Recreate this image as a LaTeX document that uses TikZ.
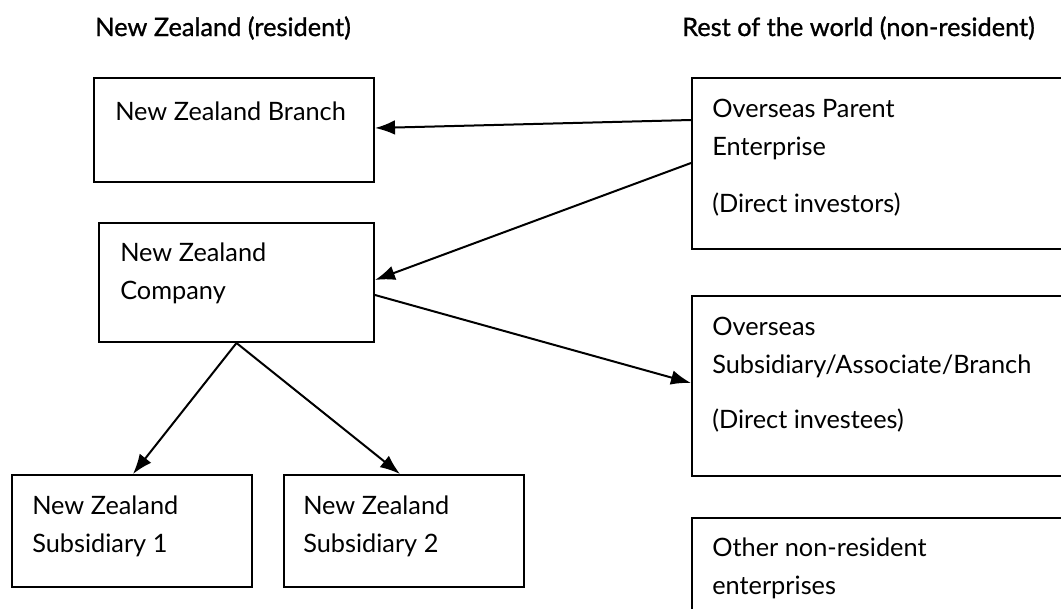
\documentclass[tikz,border=0pt]{standalone}
\usepackage{fontspec}
\setmainfont{Lato}
\newfontfamily\headfont{Lato}[FakeBold=1]
\usetikzlibrary{positioning,calc,arrows.meta}

\tikzset{
  entity/.style={draw, line width=1.5pt, anchor=north west, inner sep=0pt},
  entitytext/.style={anchor=north west, align=left, inner sep=0pt,
    font=\fontsize{19}{28.5}\selectfont,
    execute at begin node={\rule{0pt}{16pt}}},
  heading/.style={anchor=base west, inner sep=0pt,
    font=\headfont\fontsize{19}{22}\selectfont},
  link/.style={-{Latex[length=15pt,width=11pt]}, line width=1.5pt}
}

\begin{document}
\begin{tikzpicture}[x=0.75pt,y=-0.75pt]
  \useasboundingbox (0,0) rectangle (1061,608);
  \clip (0,0) rectangle (1061,608);

  % Column headings
  \node[heading] (nzhead) at (95,36) {New Zealand (resident)};
  \node[heading] (rowhead) at (682,36) {Rest of the world (non-resident)};

  % Resident boxes
  \node[entity, minimum width=210pt, minimum height=78pt] (branch) at (93,77) {};
  \node[entity, minimum width=206.25pt, minimum height=89.25pt] (company) at (98,222) {};
  \node[entity, minimum width=180pt, minimum height=84pt] (sub1) at (11,474) {};
  \node[entity, minimum width=180pt, minimum height=84pt] (sub2) at (283,474) {};

  % Non-resident boxes (run off the page)
  \node[entity, minimum width=300pt, minimum height=128.25pt] (parent) at (691,77) {};
  \node[entity, minimum width=300pt, minimum height=135pt] (overseas) at (691,295) {};
  \node[entity, minimum width=300pt, minimum height=112.5pt] (others) at (691,517) {};

  % Box texts (first baseline 21.3px below the top of the text node)
  \node[entitytext] (branchtxt) at ($(branch.north west)+(22,21.5)$) {New Zealand Branch};
  \node[entitytext] (companytxt) at ($(company.north west)+(22,20.5)$) {New Zealand\\Company};
  \node[entitytext] (sub1txt) at ($(sub1.north west)+(21,21.5)$) {New Zealand\\Subsidiary 1};
  \node[entitytext] (sub2txt) at ($(sub2.north west)+(20,21.5)$) {New Zealand\\Subsidiary 2};
  \node[entitytext] (parenttxt) at ($(parent.north west)+(21,22)$)
    {Overseas Parent\\Enterprise\\[14pt](Direct investors)};
  \node[entitytext] (overseastxt) at ($(overseas.north west)+(21,21.5)$)
    {Overseas\\Subsidiary/Associate/Branch\\[13pt](Direct investees)};
  \node[entitytext] (otherstxt) at ($(others.north west)+(21,20.5)$)
    {Other non-resident\\enterprises};

  % Investment links
  \draw[link] ($(parent.north west)+(0,43)$) -- ($(branch.north east)+(0,51)$);
  \draw[link] ($(parent.north west)+(0,86)$) -- ($(company.north east)+(0,58)$);
  \draw[link] ($(company.north east)+(0,73)$) -- ($(overseas.north west)+(0,88)$);
  \draw[link] (company.south) -- ($(sub1.north west)+(122,0)$);
  \draw[link] (company.south) -- ($(sub2.north west)+(117,0)$);
\end{tikzpicture}
\end{document}
